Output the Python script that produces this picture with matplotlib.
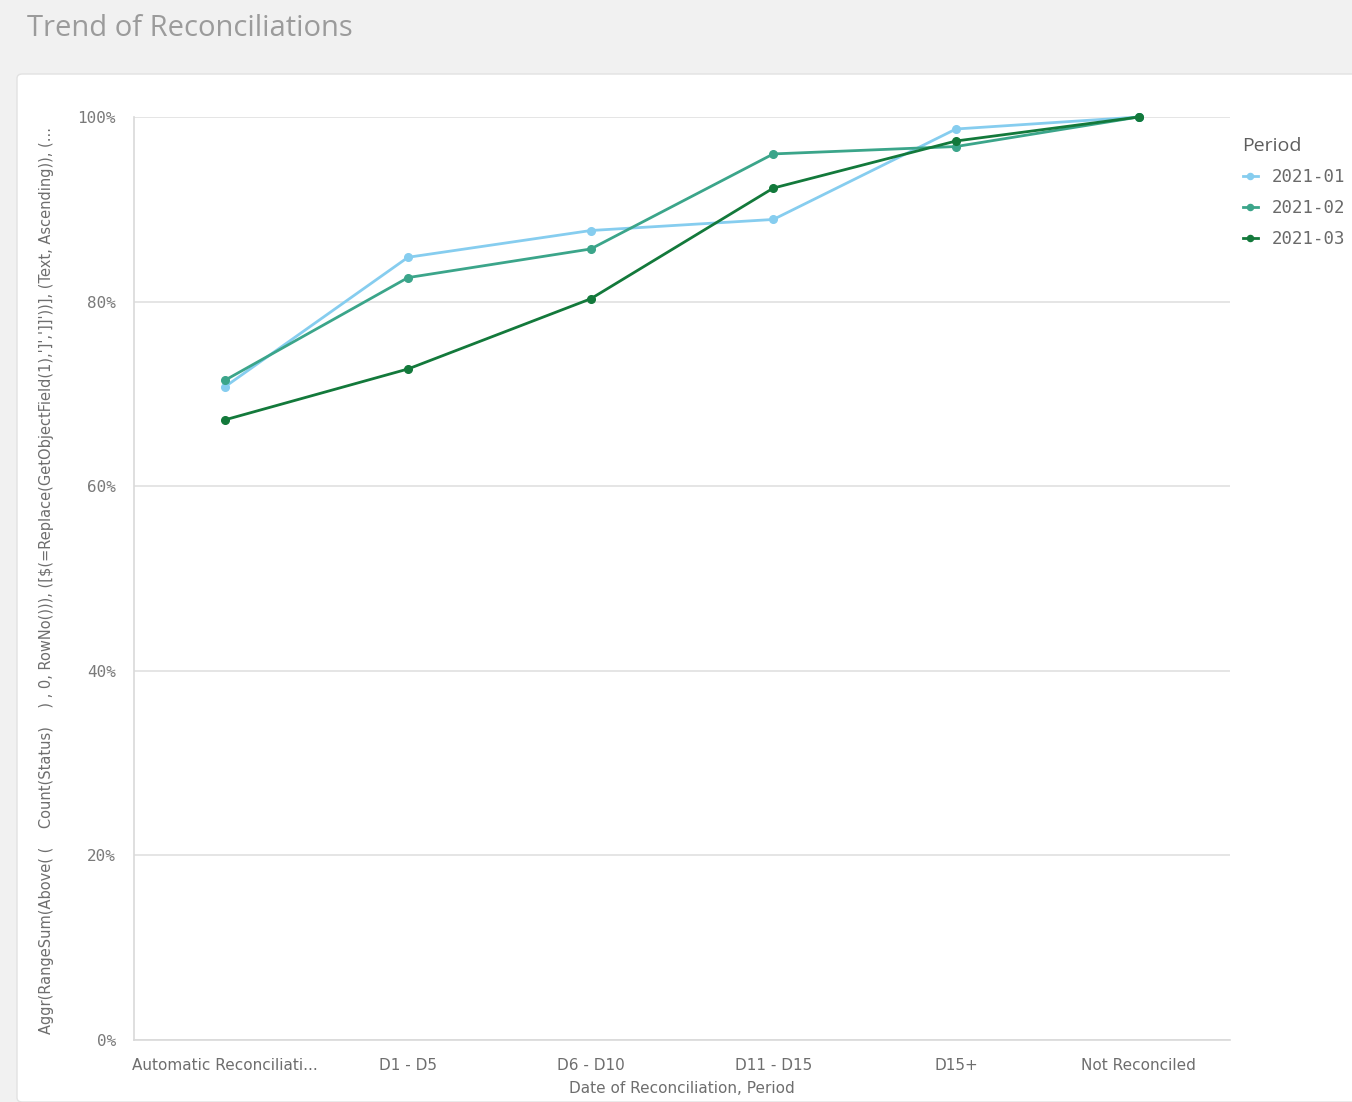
import matplotlib.pyplot as plt
from matplotlib.patches import FancyBboxPatch
from matplotlib.ticker import PercentFormatter

# data
categories = ['Automatic Reconciliati...', 'D1 - D5', 'D6 - D10', 'D11 - D15', 'D15+', 'Not Reconciled']
periods = ['2021-01', '2021-02', '2021-03']
p2021_01 = [0.708, 0.848, 0.877, 0.889, 0.987, 1.0]
p2021_02 = [0.715, 0.826, 0.857, 0.960, 0.968, 1.0]
p2021_03 = [0.672, 0.727, 0.803, 0.923, 0.974, 1.0]
colors = ['#86cdef', '#3ba58a', '#13793b']

ylabel = ("Aggr(RangeSum(Above( (    Count(Status)    ) , 0, RowNo())), "
          "([$(=Replace(GetObjectField(1),']',']]'))], (Text, Ascending)), (...")

narrow = ['Liberation Sans Narrow', 'DejaVu Sans']

W, H = 1352, 1102
fig = plt.figure(figsize=(W / 100, H / 100), dpi=100)
fig.patch.set_facecolor('#f1f1f1')

# white card behind the chart
card = FancyBboxPatch((17 / W, 0), 1.0, (H - 74) / H, boxstyle='round,pad=0,rounding_size=0.004',
                      transform=fig.transFigure, facecolor='white', edgecolor='#e2e2e2', lw=1.0,
                      zorder=-10)
fig.patches.append(card)

fig.text(27 / W, 1 - 29 / H, 'Trend of Reconciliations', fontsize=21, color='#9b9b9b',
         family=['Open Sans', 'DejaVu Sans'], va='center', ha='left')

ax = fig.add_axes([134 / W, (H - 1040) / H, (1230 - 134) / W, (1040 - 117) / H])
ax.set_facecolor('white')

x = range(len(categories))
for name, vals, c in zip(periods, [p2021_01, p2021_02, p2021_03], colors):
    ax.plot(x, vals, color=c, lw=2.0, marker='o', markersize=5.5, label=name, clip_on=False, zorder=3)

ax.set_xlim(-0.5, len(categories) - 0.5)
ax.set_ylim(0, 1.0)
ax.set_yticks([0, 0.2, 0.4, 0.6, 0.8, 1.0])
ax.yaxis.set_major_formatter(PercentFormatter(1.0, decimals=0))
ax.set_xticks(list(x))
ax.set_xticklabels(categories)

ax.grid(axis='y', color='#e0e0e0', lw=1.2)
ax.set_axisbelow(True)
for s in ['top', 'right']:
    ax.spines[s].set_visible(False)
ax.spines['left'].set_color('#d9d9d9')
ax.spines['bottom'].set_color('#d9d9d9')
ax.spines['left'].set_linewidth(1.2)
ax.spines['bottom'].set_linewidth(1.2)
ax.tick_params(axis='both', length=0)
ax.tick_params(axis='y', pad=13, labelsize=11.5, labelcolor='#7a7a7a')
ax.tick_params(axis='x', pad=13, labelsize=11, labelcolor='#6e6e6e')
for t in ax.get_yticklabels():
    t.set_family('DejaVu Sans Mono')
for t in ax.get_xticklabels():
    t.set_family(narrow)

ax.set_xlabel('Date of Reconciliation, Period', fontsize=11, color='#6e6e6e',
              family=narrow, labelpad=6)
fig.text(47 / W, 1 - 580 / H, ylabel, rotation=90, fontsize=10.5, color='#6e6e6e',
         family=narrow, ha='center', va='center')

leg = fig.legend(loc='upper left', bbox_to_anchor=(1227 / W, 1 - 121 / H), frameon=False,
                 title='Period', alignment='left', handlelength=0.9, handletextpad=0.75,
                 labelspacing=0.75, markerscale=0.8,
                 prop={'family': 'DejaVu Sans Mono', 'size': 12.5})
leg.get_title().set_fontsize(14)
leg.get_title().set_color('#5e5e5e')
leg.get_title().set_family(['Open Sans', 'DejaVu Sans'])
for t in leg.get_texts():
    t.set_color('#6a6a6a')

fig.savefig('out.png', dpi=100, facecolor=fig.get_facecolor())
